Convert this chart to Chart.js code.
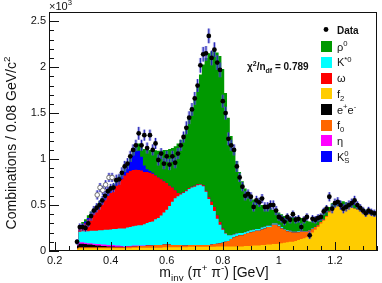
<!DOCTYPE html>
<html>
<head>
<meta charset="utf-8">
<script src="https://cdn.jsdelivr.net/npm/chart.js@4.4.1/dist/chart.umd.min.js"></script>
<style>
  html, body { margin: 0; padding: 0; background: #fff; }
  #wrap { width: 382px; height: 283px; }
</style>
</head>
<body>
<div id="wrap"><canvas id="c" width="382" height="283"></canvas></div>
<script>
// pi+ pi- invariant mass, stacked MC components vs data (values in units of 10^3)
const BIN_LO = 0.28, BIN_W = 0.01;   // bin centres 0.28 ... 1.35 GeV

const f2 = [
  .02,.03,.03,.03,.03,.03,.03,.03,.03,.03,
  .03,.03,.03,.03,.03,.03,.03,.03,.03,.03,
  .035,.035,.035,.035,.035,.035,.035,.035,.035,.035,
  .035,.04,.04,.04,.04,.04,.04,.04,.04,.04,
  .045,.045,.045,.045,.045,.045,.045,.045,.045,.045,
  .05,.05,.05,.05,.05,.05,.05,.05,.05,.05,
  .055,.055,.055,.06,.06,.06,.065,.065,.07,.07,
  .075,.075,.08,.085,.09,.095,.10,.10,.11,.12,
  .13,.14,.15,.17,.20,.23,.26,.30,.33,.37,
  .42,.46,.48,.49,.49,.49,.49,.48,.47,.46,
  .45,.43,.42,.41,.40,.39,.38,.37];
const f0 = [
  .01,.01,.01,.01,.01,.01,.01,.01,.01,.01,
  .01,.01,.01,.01,.01,.01,.01,.01,.015,.015,
  .015,.015,.02,.02,.02,.025,.025,.025,.03,.03,
  .03,.03,.03,.03,.025,.025,.025,.025,.02,.02,
  .02,.02,.02,.02,.02,.02,.02,.02,.025,.03,
  .03,.035,.04,.05,.06,.08,.10,.11,.12,.12,
  .13,.14,.15,.15,.16,.16,.17,.18,.19,.19,
  .21,.21,.19,.16,.14,.12,.11,.10,.09,.085,
  .08,.07,.06,.05,.04,.03,.02,.015,.01,.01,
  .01,.005,0,0,0,0,0,0,0,0,
  0,0,0,0,0,0,0,0];
const eeBkg = [
  .03,.04,.04,.035,.03,.03,.025,.02,.02,.015,
  .015,.01,.01,.01,.005,.005,.005,0,0,0,
  0,0,0,0,0,0,0,0,0,0, 0,0,0,0,0,0,0,0,0,0,
  0,0,0,0,0,0,0,0,0,0, 0,0,0,0,0,0,0,0,0,0,
  0,0,0,0,0,0,0,0,0,0, 0,0,0,0,0,0,0,0,0,0,
  0,0,0,0,0,0,0,0,0,0, 0,0,0,0,0,0,0,0,0,0,
  0,0,0,0,0,0,0,0];
const eta = [
  .01,.015,.015,.015,.015,.015,.015,.015,.015,.015,
  .015,.015,.015,.015,.015,.015,.01,.01,.01,.01,
  .01,.01,.005,.005,.005,.005,.005,0,0,0,
  0,0,0,0,0,0,0,0,0,0, 0,0,0,0,0,0,0,0,0,0,
  0,0,0,0,0,0,0,0,0,0, 0,0,0,0,0,0,0,0,0,0,
  0,0,0,0,0,0,0,0,0,0, 0,0,0,0,0,0,0,0,0,0,
  0,0,0,0,0,0,0,0,0,0, 0,0,0,0,0,0,0,0];
const kstar = [
  .03,.115,.12,.125,.13,.135,.14,.145,.15,.155,
  .16,.165,.17,.175,.18,.185,.19,.195,.20,.205,
  .21,.215,.22,.22,.23,.24,.25,.26,.28,.295,
  .32,.35,.38,.42,.47,.51,.53,.55,.57,.59,
  .61,.625,.635,.65,.655,.64,.58,.50,.43,.36,
  .27,.20,.14,.09,.06,.04,.03,.03,.025,.025,
  .02,.02,.02,.02,.02,.02,.02,.02,.015,.015,
  .015,.015,.015,.015,.01,.01,.01,.01,.01,.01,
  .005,.005,.005,.005,.005,0,0,0,0,0,
  0,0,0,0,0,0,0,0,0,0, 0,0,0,0,0,0,0,0];
const omega = [
  0,.03,.055,.085,.125,.16,.19,.23,.265,.295,
  .33,.37,.395,.43,.47,.505,.535,.575,.595,.61,
  .61,.61,.60,.595,.57,.555,.535,.52,.475,.44,
  .395,.34,.29,.22,.155,.085,.035,.01,.01,.01,
  .01,.01,.01,.01,.01,.01,.01,.02,.035,.045,
  .04,.03,.015,.005,0,0,0,0,0,0,
  0,0,0,0,0,0,0,0,0,0, 0,0,0,0,0,0,0,0,0,0,
  0,0,0,0,0,0,0,0,0,0, 0,0,0,0,0,0,0,0,0,0,
  0,0,0,0,0,0,0,0];
const k0s = [
  0,.015,.02,.02,.02,.02,.02,.02,.02,.02,
  .02,.025,.025,.025,.025,.03,.03,.04,.06,.10,
  .16,.20,.21,.15,.07,.03,.02,.01,.005,0,
  0,0,0,0,0,0,0,0,0,0, 0,0,0,0,0,0,0,0,0,0,
  0,0,0,0,0,0,0,0,0,0, 0,0,0,0,0,0,0,0,0,0,
  0,0,0,0,0,0,0,0,0,0, 0,0,0,0,0,0,0,0,0,0,
  0,0,0,0,0,0,0,0,0,0, 0,0,0,0,0,0,0,0];
const rho = [
  0,.02,.025,.025,.03,.03,.03,.03,.03,.03,
  .03,.035,.035,.035,.035,.04,.04,.04,.045,.05,
  .06,.07,.08,.115,.18,.22,.23,.25,.27,.29,
  .31,.34,.36,.40,.43,.48,.54,.585,.625,.69,
  .765,.86,.96,1.075,1.19,1.315,1.445,1.565,1.635,1.71,
  1.77,1.805,1.735,1.525,1.28,1.08,.94,.79,.665,.565,
  .475,.415,.365,.33,.30,.28,.245,.225,.205,.195,
  .15,.14,.135,.14,.14,.145,.15,.16,.16,.145,
  .145,.135,.115,.095,.085,.08,.08,.065,.07,.06,
  .05,.055,.05,.05,.05,.05,.04,.04,.04,.04,
  .04,.04,.04,.04,.04,.04,.04,.04];

const dataY = [
  .10,.26,.26,.25,.30,.38,.44,.47,.50,.55,
  .60,.65,.68,.69,.77,.78,.85,.92,.95,1.03,
  1.10,1.15,1.28,1.15,1.26,1.12,1.26,1.10,1.17,.99,
  1.06,.95,1.03,.94,1.03,.96,1.06,1.15,1.24,1.34,
  1.45,1.54,1.66,1.80,2.02,2.14,2.15,2.34,2.10,2.19,
  2.05,1.97,1.63,1.50,1.22,1.15,1.10,.92,.80,.70,
  .60,.62,.59,.48,.55,.53,.57,.48,.48,.50,
  .50,.44,.37,.35,.32,.37,.34,.40,.34,.35,
  .26,.34,.37,.17,.35,.34,.36,.37,.43,.46,
  .59,.46,.52,.535,.50,.46,.48,.50,.52,.55,
  .50,.47,.44,.41,.44,.42,.41,.41];
const dataErr = [
  .03,.04,.04,.04,.04,.05,.05,.05,.05,.05,
  .05,.05,.05,.05,.06,.06,.06,.06,.06,.06,
  .06,.06,.07,.06,.06,.06,.06,.06,.06,.06,
  .06,.06,.06,.06,.06,.06,.06,.06,.06,.07,
  .07,.07,.07,.07,.08,.08,.08,.08,.08,.08,
  .08,.08,.07,.07,.07,.06,.06,.06,.05,.05,
  .05,.05,.05,.05,.05,.05,.05,.05,.05,.05,
  .05,.05,.04,.04,.04,.04,.04,.04,.04,.04,
  .04,.04,.04,.04,.04,.04,.04,.04,.04,.04,
  .05,.05,.05,.05,.05,.05,.05,.05,.05,.05,
  .04,.04,.04,.04,.04,.04,.04,.04];

// open grey points (excluded region)
const openX = [0.352, 0.362, 0.372, 0.382, 0.394, 0.405];
const openY = [0.61, 0.69, 0.66, 0.72, 0.80, 0.80];
const openErr = [0.05, 0.05, 0.05, 0.05, 0.05, 0.05];

const xTicks = [0.2, 0.4, 0.6, 0.8, 1, 1.2];
const yTicks = [0, 0.5, 1, 1.5, 2, 2.5];

const legendLabels = ['Data', 'ρ^{0}', 'K^{*0}', 'ω', 'f_{2}', 'e^{+}e^{-}', 'f_{0}', 'η', 'K^{0}_{S}'];
const legendColors = [null, '#009900', '#00ffff', '#ff0000', '#ffcc00', '#000000', '#ff6600', '#ff00ff', '#0000ff'];

const FONT = "'Liberation Sans', Arial, Helvetica, sans-serif";
const mass = dataY.map((_, i) => +(BIN_LO + BIN_W * i).toFixed(3));
const pts = arr => arr.map((v, i) => ({ x: mass[i], y: v }));

// stacking order bottom -> top
const comps = [
  { data: f2,    color: '#ffcc00' },
  { data: f0,    color: '#ff6600' },
  { data: eeBkg, color: '#000000' },
  { data: eta,   color: '#ff00ff' },
  { data: kstar, color: '#00ffff' },
  { data: omega, color: '#ff0000' },
  { data: k0s,   color: '#0000ff' },
  { data: rho,   color: '#009900' },
];

// --- little TLatex-ish text helper ---
function parseTex(s) {
  const out = []; const re = /\^\{([^}]*)\}|_\{([^}]*)\}|([^^_]+)/g; let m;
  while ((m = re.exec(s))) {
    if (m[1] !== undefined) out.push({ t: m[1], m: 'sup' });
    else if (m[2] !== undefined) out.push({ t: m[2], m: 'sub' });
    else out.push({ t: m[3], m: '' });
  }
  return out;
}
function drawTex(ctx, s, x, y, size, weight, align) {
  const items = []; let cx = 0, prev = null;
  for (const tk of parseTex(s)) {
    const fs = tk.m ? size * 0.7 : size;
    ctx.font = `${weight} ${fs}px ${FONT}`;
    const w = ctx.measureText(tk.t).width;
    let x0 = cx;
    if (tk.m && prev && prev.m && prev.m !== tk.m) x0 = prev.x;
    const dy = tk.m === 'sup' ? -size * 0.42 : tk.m === 'sub' ? size * 0.25 : 0;
    items.push({ t: tk.t, x: x0, dy, fs });
    cx = Math.max(cx, x0 + w);
    prev = { m: tk.m, x: x0 };
  }
  const sx = align === 'center' ? x - cx / 2 : align === 'right' ? x - cx : x;
  ctx.textAlign = 'left'; ctx.textBaseline = 'alphabetic';
  for (const it of items) {
    ctx.font = `${weight} ${it.fs}px ${FONT}`;
    ctx.fillText(it.t, sx + it.x, y + it.dy);
  }
}

const rootStyle = {
  id: 'rootStyle',
  beforeDatasetDraw(chart, args) {
    if (args.index > 1) return;
    const errs = args.index === 0 ? dataErr : openErr;
    const ys = chart.scales.y, ctx = chart.ctx, a = chart.chartArea;
    const meta = chart.getDatasetMeta(args.index);
    ctx.save();
    ctx.beginPath(); ctx.rect(a.left, a.top, a.right - a.left, a.bottom - a.top); ctx.clip();
    meta.data.forEach((el, i) => {
      const v = chart.data.datasets[args.index].data[i].y;
      const top = ys.getPixelForValue(v + errs[i]), bot = ys.getPixelForValue(v - errs[i]);
      ctx.fillStyle = 'rgba(120,120,215,0.55)';
      ctx.fillRect(el.x - 1.5, top, 3, bot - top);
      ctx.strokeStyle = '#1c1cb4'; ctx.lineWidth = 1;
      ctx.beginPath(); ctx.moveTo(el.x, top); ctx.lineTo(el.x, bot); ctx.stroke();
    });
    ctx.restore();
  },
  afterDatasetsDraw(chart) {
    const ctx = chart.ctx, a = chart.chartArea, xs = chart.scales.x, ys = chart.scales.y;
    ctx.save();
    ctx.strokeStyle = '#111'; ctx.lineWidth = 1;
    ctx.beginPath();
    for (let k = 0; k <= 25; k++) {
      const py = Math.round(ys.getPixelForValue(k / 10)) + 0.5;
      const len = k % 5 === 0 ? 10 : 5;
      ctx.moveTo(a.left, py); ctx.lineTo(a.left + len, py);
    }
    for (let k = 4; k <= 27; k++) {
      const px = Math.round(xs.getPixelForValue(k * 0.05)) + 0.5;
      const len = k % 4 === 0 ? 9 : 5;
      ctx.moveTo(px, a.bottom); ctx.lineTo(px, a.bottom - len);
    }
    ctx.stroke();
    ctx.strokeRect(a.left + 0.5, a.top + 0.5, a.right - a.left - 1, a.bottom - a.top - 1);
    ctx.restore();
  },
  afterDraw(chart) {
    const ctx = chart.ctx;
    ctx.save();
    ctx.fillStyle = '#111';
    drawTex(ctx, '×10^{3}', 49, 10, 11, 'normal', 'left');
    drawTex(ctx, 'χ^{2}/n_{df} = 0.789', 247, 70, 10, 'bold', 'left');
    drawTex(ctx, 'm_{inv} (π^{+} π^{-}) [GeV]', 214, 277, 14, 'normal', 'center');
    ctx.save();
    ctx.translate(16, 143); ctx.rotate(-Math.PI / 2);
    drawTex(ctx, 'Combinations / 0.08 GeV/c^{2}', 0, 0, 14, 'normal', 'center');
    ctx.restore();
    // legend
    legendLabels.forEach((lab, i) => {
      const cy = i === 0 ? 29.5 : 46.7 + 15.7 * (i - 1);
      if (i === 0) {
        ctx.fillStyle = '#000';
        ctx.beginPath(); ctx.arc(326, cy, 2.4, 0, Math.PI * 2); ctx.fill();
      } else {
        ctx.fillStyle = legendColors[i];
        ctx.fillRect(321, Math.round(cy - 5.5), 11, 11);
      }
      ctx.fillStyle = '#111';
      drawTex(ctx, lab, 337, cy + 4, i === 0 ? 10 : 11, i === 0 ? 'bold' : 'normal', 'left');
    });
    ctx.restore();
  }
};

const datasets = [
  { type: 'line', data: pts(dataY), stack: 'data', showLine: false, pointRadius: 2.4,
    pointBackgroundColor: '#000', pointBorderWidth: 0, fill: false },
  { type: 'line', data: openX.map((x, i) => ({ x, y: openY[i] })), stack: 'open', showLine: false,
    pointRadius: 2.3, pointBackgroundColor: '#fff', pointBorderColor: '#707070', pointBorderWidth: 1, fill: false },
  ...comps.map(c => ({
    type: 'line', data: pts(c.data), stack: 'comp', stepped: 'middle',
    borderWidth: 0, borderColor: 'rgba(0,0,0,0)', backgroundColor: c.color,
    pointRadius: 0, fill: 'origin'
  }))
];

new Chart(document.getElementById('c'), {
  type: 'line',
  data: { datasets },
  options: {
    responsive: false, animation: false, devicePixelRatio: 1,
    layout: { padding: { left: 0, right: 2, top: 12, bottom: 0 } },
    plugins: { legend: { display: false }, tooltip: { enabled: false } },
    scales: {
      x: {
        type: 'linear', min: 0.18, max: 1.35,
        afterBuildTicks: s => { s.ticks = xTicks.map(v => ({ value: v })); },
        afterFit: s => { s.height = 32; },
        ticks: { padding: 3, color: '#111', font: { size: 11, family: FONT }, callback: v => String(v), maxRotation: 0 },
        grid: { display: false, drawTicks: false }, border: { display: false }
      },
      y: {
        stacked: true, min: 0, max: 2.6,
        afterBuildTicks: s => { s.ticks = yTicks.map(v => ({ value: v })); },
        afterFit: s => { s.width = 49; },
        ticks: { padding: 3, color: '#111', font: { size: 11, family: FONT }, callback: v => String(v) },
        grid: { display: false, drawTicks: false }, border: { display: false }
      }
    }
  },
  plugins: [rootStyle]
});
</script>
</body>
</html>
